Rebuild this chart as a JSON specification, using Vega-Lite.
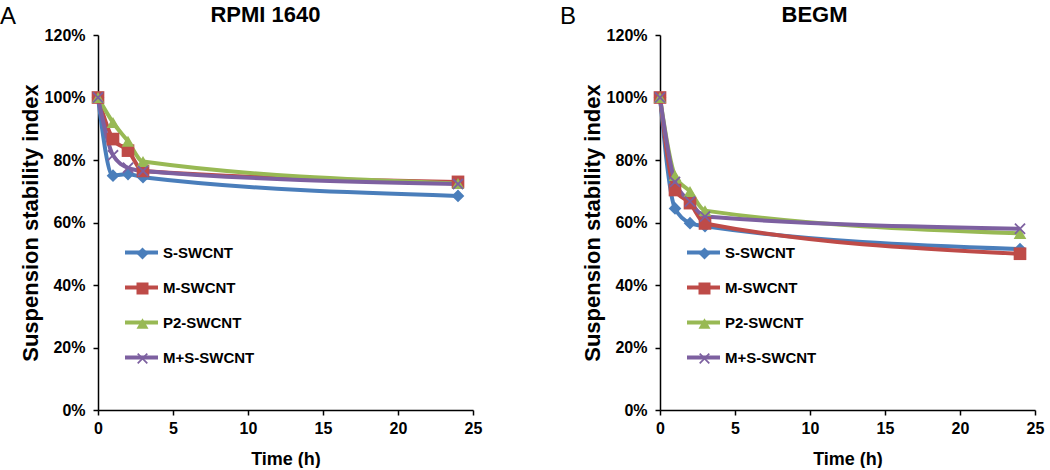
{
  "$schema": "https://vega.github.io/schema/vega-lite/v6.json",
  "padding": {"left": 0, "top": 4, "right": 5, "bottom": 0},
  "config": {
    "font": "Liberation Sans",
    "view": {"stroke": null},
    "title": {"font": "Liberation Sans", "fontWeight": "bold", "color": "black"},
    "axis": {
      "domainColor": "black", "domainWidth": 1.5, "tickColor": "black", "tickWidth": 1.5, "tickSize": 5,
      "labelColor": "black", "labelFontSize": 16, "labelFontWeight": "bold", "labelFont": "Liberation Sans",
      "titleColor": "black", "titleFontWeight": "bold", "titleFont": "Liberation Sans", "grid": false
    },
    "axisY": {"titleFontSize": 22, "labelPadding": 8, "titlePadding": 2},
    "axisX": {"titleFontSize": 18, "labelPadding": 5, "titlePadding": 14, "labelFlush": false},
    "legend": {"padding": 0, "labelFontSize": 15, "labelFontWeight": "bold", "labelColor": "black", "rowPadding": 19}
  },
  "datasets": {
    "rpmi": [
      {"series": "S-SWCNT", "time": 0, "value": 1.0},
      {"series": "S-SWCNT", "time": 1, "value": 0.75},
      {"series": "S-SWCNT", "time": 2, "value": 0.755},
      {"series": "S-SWCNT", "time": 3, "value": 0.745},
      {"series": "S-SWCNT", "time": 24, "value": 0.685},
      {"series": "M-SWCNT", "time": 0, "value": 1.0},
      {"series": "M-SWCNT", "time": 1, "value": 0.867},
      {"series": "M-SWCNT", "time": 2, "value": 0.83},
      {"series": "M-SWCNT", "time": 3, "value": 0.765},
      {"series": "M-SWCNT", "time": 24, "value": 0.73},
      {"series": "P2-SWCNT", "time": 0, "value": 1.0},
      {"series": "P2-SWCNT", "time": 1, "value": 0.92},
      {"series": "P2-SWCNT", "time": 2, "value": 0.86},
      {"series": "P2-SWCNT", "time": 3, "value": 0.795},
      {"series": "P2-SWCNT", "time": 24, "value": 0.725},
      {"series": "M+S-SWCNT", "time": 0, "value": 1.0},
      {"series": "M+S-SWCNT", "time": 1, "value": 0.815},
      {"series": "M+S-SWCNT", "time": 2, "value": 0.775},
      {"series": "M+S-SWCNT", "time": 3, "value": 0.765},
      {"series": "M+S-SWCNT", "time": 24, "value": 0.723}
    ],
    "begm": [
      {"series": "S-SWCNT", "time": 0, "value": 1.0},
      {"series": "S-SWCNT", "time": 1, "value": 0.645},
      {"series": "S-SWCNT", "time": 2, "value": 0.598},
      {"series": "S-SWCNT", "time": 3, "value": 0.588},
      {"series": "S-SWCNT", "time": 24, "value": 0.515},
      {"series": "M-SWCNT", "time": 0, "value": 1.0},
      {"series": "M-SWCNT", "time": 1, "value": 0.704},
      {"series": "M-SWCNT", "time": 2, "value": 0.662},
      {"series": "M-SWCNT", "time": 3, "value": 0.597},
      {"series": "M-SWCNT", "time": 24, "value": 0.5},
      {"series": "P2-SWCNT", "time": 0, "value": 1.0},
      {"series": "P2-SWCNT", "time": 1, "value": 0.75},
      {"series": "P2-SWCNT", "time": 2, "value": 0.699},
      {"series": "P2-SWCNT", "time": 3, "value": 0.638},
      {"series": "P2-SWCNT", "time": 24, "value": 0.565},
      {"series": "M+S-SWCNT", "time": 0, "value": 1.0},
      {"series": "M+S-SWCNT", "time": 1, "value": 0.73},
      {"series": "M+S-SWCNT", "time": 2, "value": 0.667},
      {"series": "M+S-SWCNT", "time": 3, "value": 0.619},
      {"series": "M+S-SWCNT", "time": 24, "value": 0.58}
    ]
  },
  "spacing": 78,
  "resolve": {"scale": {"stroke": "independent", "fill": "independent", "shape": "independent", "x": "independent", "y": "independent"}, "legend": {"stroke": "independent", "fill": "independent", "shape": "independent"}},
  "hconcat": [
    {
      "title": {"text": "A", "anchor": "start", "frame": "bounds", "fontSize": 24, "fontWeight": "normal", "offset": -25, "dx": -19},
      "resolve": {"scale": {"stroke": "independent", "fill": "independent", "shape": "independent"}, "legend": {"stroke": "independent", "fill": "independent", "shape": "independent"}},
      "vconcat": [
        {
          "title": {"text": "RPMI 1640", "fontSize": 22, "dx": -20, "offset": 0},
          "width": 375, "height": 375,
          "data": {"name": "rpmi"},
          "encoding": {
            "x": {"field": "time", "type": "quantitative", "scale": {"domain": [0, 25], "nice": false}, "axis": {"values": [0, 5, 10, 15, 20, 25], "title": "Time (h)"}},
            "y": {"field": "value", "type": "quantitative", "scale": {"domain": [0, 1.2], "nice": false}, "axis": {"values": [0, 0.2, 0.4, 0.6, 0.8, 1.0, 1.2], "format": ".0%", "title": "Suspension stability index"}}
          },
          "layer": [
            {
              "mark": {"type": "line", "interpolate": "monotone", "strokeWidth": 4},
              "encoding": {
                "stroke": {
                  "field": "series", "type": "nominal",
                  "sort": ["S-SWCNT", "M-SWCNT", "P2-SWCNT", "M+S-SWCNT"],
                  "scale": {"range": ["#4A7EBB", "#BE4B48", "#98B954", "#7D60A0"]},
                  "legend": {"orient": "none", "legendX": 25, "legendY": 199, "title": null, "symbolType": "stroke", "symbolSize": 1089, "symbolStrokeWidth": 4, "labelOffset": 3, "rowPadding": 8}
                }
              }
            },
            {
              "mark": {"type": "point", "filled": true, "size": 160, "opacity": 1},
              "encoding": {
                "fill": {
                  "field": "series", "type": "nominal",
                  "scale": {"domain": ["S-SWCNT", "M-SWCNT", "P2-SWCNT", "M+S-SWCNT"], "range": ["#4A7EBB", "#BE4B48", "#98B954", "#7D60A0"]},
                  "legend": {"orient": "bottom-left", "offset": 43, "title": null, "symbolSize": 144, "symbolStrokeWidth": 0, "symbolOffset": -6, "labelExpr": "''", "symbolOpacity": 1}
                },
                "shape": {
                  "field": "series", "type": "nominal",
                  "scale": {"domain": ["S-SWCNT", "M-SWCNT", "P2-SWCNT", "M+S-SWCNT"], "range": ["diamond", "square", "triangle-up", "M-0.9,-0.7L-0.7,-0.9L0,-0.2L0.7,-0.9L0.9,-0.7L0.2,0L0.9,0.7L0.7,0.9L0,0.2L-0.7,0.9L-0.9,0.7L-0.2,0Z"]},
                  "legend": {"orient": "bottom-left", "offset": 43, "title": null, "symbolSize": 144, "symbolStrokeWidth": 0, "symbolOffset": -6, "labelExpr": "''", "symbolOpacity": 1}
                }
              }
            }
          ]
        }
      ]
    },
    {
      "title": {"text": "B", "anchor": "start", "frame": "bounds", "fontSize": 24, "fontWeight": "normal", "offset": -25, "dx": -21},
      "resolve": {"scale": {"stroke": "independent", "fill": "independent", "shape": "independent"}, "legend": {"stroke": "independent", "fill": "independent", "shape": "independent"}},
      "vconcat": [
        {
          "title": {"text": "BEGM", "fontSize": 22, "dx": -33, "offset": 0},
          "width": 375, "height": 375,
          "data": {"name": "begm"},
          "encoding": {
            "x": {"field": "time", "type": "quantitative", "scale": {"domain": [0, 25], "nice": false}, "axis": {"values": [0, 5, 10, 15, 20, 25], "title": "Time (h)"}},
            "y": {"field": "value", "type": "quantitative", "scale": {"domain": [0, 1.2], "nice": false}, "axis": {"values": [0, 0.2, 0.4, 0.6, 0.8, 1.0, 1.2], "format": ".0%", "title": "Suspension stability index"}}
          },
          "layer": [
            {
              "mark": {"type": "line", "interpolate": "monotone", "strokeWidth": 4},
              "encoding": {
                "stroke": {
                  "field": "series", "type": "nominal",
                  "sort": ["S-SWCNT", "M-SWCNT", "P2-SWCNT", "M+S-SWCNT"],
                  "scale": {"range": ["#4A7EBB", "#BE4B48", "#98B954", "#7D60A0"]},
                  "legend": {"orient": "none", "legendX": 25, "legendY": 199, "title": null, "symbolType": "stroke", "symbolSize": 1089, "symbolStrokeWidth": 4, "labelOffset": 3, "rowPadding": 8}
                }
              }
            },
            {
              "mark": {"type": "point", "filled": true, "size": 160, "opacity": 1},
              "encoding": {
                "fill": {
                  "field": "series", "type": "nominal",
                  "scale": {"domain": ["S-SWCNT", "M-SWCNT", "P2-SWCNT", "M+S-SWCNT"], "range": ["#4A7EBB", "#BE4B48", "#98B954", "#7D60A0"]},
                  "legend": {"orient": "bottom-left", "offset": 43, "title": null, "symbolSize": 144, "symbolStrokeWidth": 0, "symbolOffset": -6, "labelExpr": "''", "symbolOpacity": 1}
                },
                "shape": {
                  "field": "series", "type": "nominal",
                  "scale": {"domain": ["S-SWCNT", "M-SWCNT", "P2-SWCNT", "M+S-SWCNT"], "range": ["diamond", "square", "triangle-up", "M-0.9,-0.7L-0.7,-0.9L0,-0.2L0.7,-0.9L0.9,-0.7L0.2,0L0.9,0.7L0.7,0.9L0,0.2L-0.7,0.9L-0.9,0.7L-0.2,0Z"]},
                  "legend": {"orient": "bottom-left", "offset": 43, "title": null, "symbolSize": 144, "symbolStrokeWidth": 0, "symbolOffset": -6, "labelExpr": "''", "symbolOpacity": 1}
                }
              }
            }
          ]
        }
      ]
    }
  ]
}
